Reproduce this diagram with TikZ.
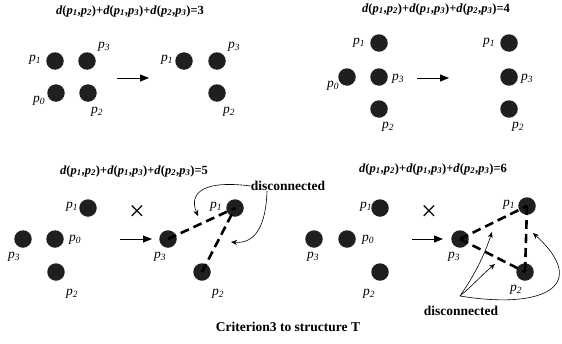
\documentclass[tikz,border=0pt]{standalone}
\usepackage{fontspec}
\setmainfont{Liberation Serif}
\usetikzlibrary{arrows.meta}

\newcommand{\pl}[1]{\textit{p}\textsubscript{\textit{#1}}}
\newcommand{\dsum}[1]{\textbf{\textit{d}(\pl{1},\pl{2})+\textit{d}(\pl{1},\pl{3})+\textit{d}(\pl{2},\pl{3})=#1}}

\tikzset{
  dot/.style={circle,fill=black!88,minimum size=17.5pt,inner sep=0pt},
  lbl/.style={inner sep=0pt,font=\fontsize{13.5}{13}\selectfont},
  ttl/.style={inner sep=0pt,font=\fontsize{12.5}{13}\selectfont},
  crs/.style={inner sep=0pt,font=\fontsize{28}{28}\selectfont},
  bigarr/.style={line width=0.8pt,-{Triangle[length=9pt,width=7pt]}},
  smallarr/.style={line width=0.6pt,-{Stealth[length=6pt,width=5pt]}},
  dashline/.style={line width=2.6pt,dash pattern=on 9pt off 5pt},
}

\begin{document}
\begin{tikzpicture}[x=1pt,y=-1pt]
  \useasboundingbox (0,0) rectangle (562,343);

  % top left
  \node[ttl] (t1) at (130,11) {\dsum{3}};
  \node[dot] (a1) at (55,61) {};
  \node[dot] (a3) at (87,61) {};
  \node[dot] (a0) at (56,93) {};
  \node[dot] (a2) at (88,93) {};
  \node[lbl] (la1) at (35,60) {\pl{1}};
  \node[lbl] (la3) at (104,47) {\pl{3}};
  \node[lbl] (la0) at (39,101) {\pl{0}};
  \node[lbl] (la2) at (97,112) {\pl{2}};
  \coordinate (s1) at (117,78);
  \coordinate (e1) at (149,78);
  \draw[bigarr] (s1) -- (e1);
  \node[dot] (b1) at (184,61) {};
  \node[dot] (b3) at (217,61) {};
  \node[dot] (b2) at (217,93) {};
  \node[lbl] (lb1) at (167,60) {\pl{1}};
  \node[lbl] (lb3) at (234,47) {\pl{3}};
  \node[lbl] (lb2) at (229,112) {\pl{2}};

  % top right
  \node[ttl] (t2) at (436,9) {\dsum{4}};
  \node[dot] (c1) at (379,43) {};
  \node[dot] (c0) at (347,77) {};
  \node[dot] (c3) at (379,77) {};
  \node[dot] (c2) at (379,109) {};
  \node[lbl] (lc1) at (359,43) {\pl{1}};
  \node[lbl] (lc3) at (398,79) {\pl{3}};
  \node[lbl] (lc0) at (333,86) {\pl{0}};
  \node[lbl] (lc2) at (388,127) {\pl{2}};
  \coordinate (s2) at (417,78);
  \coordinate (e2) at (449,78);
  \draw[bigarr] (s2) -- (e2);
  \node[dot] (d1) at (509,43) {};
  \node[dot] (d3) at (509,77) {};
  \node[dot] (d2) at (509,109) {};
  \node[lbl] (ld1) at (489,43) {\pl{1}};
  \node[lbl] (ld3) at (527,79) {\pl{3}};
  \node[lbl] (ld2) at (518,127) {\pl{2}};

  % bottom left
  \node[ttl] (t3) at (134,171) {\dsum{5}};
  \node[dot] (e1d) at (88,208) {};
  \node[dot] (e3d) at (23,239) {};
  \node[dot] (e0d) at (55,239) {};
  \node[dot] (e2d) at (56,272) {};
  \node[lbl] (le1) at (72,207) {\pl{1}};
  \node[lbl] (le0) at (75,240) {\pl{0}};
  \node[lbl] (le3) at (14,257) {\pl{3}};
  \node[lbl] (le2) at (72,294) {\pl{2}};
  \node[crs] (x1) at (137,213) {×};
  \coordinate (s3) at (120,239);
  \coordinate (e3) at (152,239);
  \draw[bigarr] (s3) -- (e3);
  \node[dot] (f3) at (168,239) {};
  \node[dot] (f1) at (235,208) {};
  \node[dot] (f2) at (202,272) {};
  \node[lbl] (lf3) at (160,257) {\pl{3}};
  \node[lbl] (lf1) at (216,207) {\pl{1}};
  \node[lbl] (lf2) at (218,294) {\pl{2}};
  \draw[dashline] (f3.center) -- (f1.center);
  \draw[dashline] (f2.center) -- (f1.center);
  \node[inner sep=0pt,font=\bfseries\fontsize{13.5}{14}\selectfont] (dis1) at (288,186) {disconnected};
  \coordinate (h1) at (198,216);
  \coordinate (h2) at (231,242);
  \draw[smallarr] (dis1.west) .. controls (205,180) and (188,192) .. (h1);
  \draw[smallarr] ([xshift=-21pt]dis1.south) .. controls (266,226) and (255,244) .. (h2);

  % bottom right
  \node[ttl] (t4) at (433,169) {\dsum{6}};
  \node[dot] (g1) at (380,208) {};
  \node[dot] (g3) at (314,239) {};
  \node[dot] (g0) at (347,239) {};
  \node[dot] (g2) at (380,272) {};
  \node[lbl] (lg1) at (366,207) {\pl{1}};
  \node[lbl] (lg0) at (368,240) {\pl{0}};
  \node[lbl] (lg3) at (313,257) {\pl{3}};
  \node[lbl] (lg2) at (369,294) {\pl{2}};
  \node[crs] (x2) at (429,213) {×};
  \coordinate (s4) at (412,239);
  \coordinate (e4) at (443,239);
  \draw[bigarr] (s4) -- (e4);
  \node[dot] (k3) at (460,239) {};
  \node[dot] (k1) at (527,206) {};
  \node[dot] (k2) at (525,272) {};
  \node[lbl] (lk3) at (454,257) {\pl{3}};
  \node[lbl] (lk1) at (509,205) {\pl{1}};
  \node[lbl] (lk2) at (516,290) {\pl{2}};
  \draw[dashline] (k3.center) -- (k1.center);
  \draw[dashline] (k3.center) -- (k2.center);
  \draw[dashline] (k1.center) -- (k2.center);
  \node[inner sep=0pt,font=\bfseries\fontsize{13.5}{14}\selectfont] (dis2) at (461,311) {disconnected};
  \coordinate (o1) at (460,296);
  \coordinate (h3) at (492,232);
  \coordinate (h4) at (495,264);
  \coordinate (h5) at (533,233);
  \draw[smallarr] (o1) .. controls (478,270) and (486,250) .. (h3);
  \draw[smallarr] (o1) .. controls (472,286) and (484,273) .. (h4);
  \draw[smallarr] (o1) .. controls (545,310) and (590,285) .. (h5);

  \node[inner sep=0pt,font=\bfseries\fontsize{13.5}{14}\selectfont] (cap) at (288,327) {Criterion3 to structure T};
\end{tikzpicture}
\end{document}
